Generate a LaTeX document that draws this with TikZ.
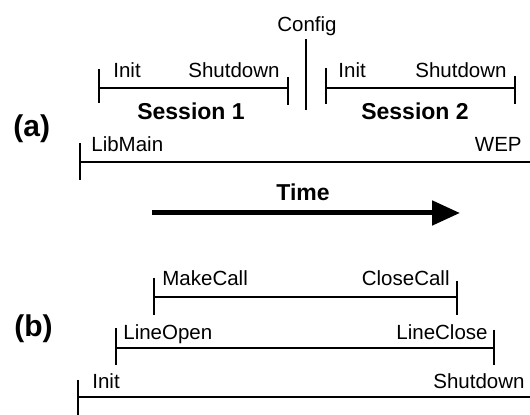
\documentclass[tikz,border=0pt]{standalone}
\usepackage{fontspec}
\setmainfont{Liberation Sans}
\usetikzlibrary{arrows.meta}
\tikzset{
	bar/.style={line width=1pt},
	lbl/.style={font=\fontsize{10.25}{12}\selectfont, inner sep=0pt},
	title/.style={font=\bfseries\fontsize{11.5}{14}\selectfont, inner sep=0pt, anchor=base},
	part/.style={font=\bfseries\fontsize{15}{18}\selectfont, inner sep=0pt, anchor=base west}
}

\begin{document}
\begin{tikzpicture}[x=0.5pt, y=-0.5pt]
		%%%%% START %%%%%
		\useasboundingbox (0, 0) rectangle (530, 415);
		
		%% (a) sessions inside the library lifetime
		\node[part] (pa) at (13, 137) {(a)};
		
		\node[lbl, anchor=base] (cfg) at (307, 32) {Config};
		\coordinate (cfgtop) at (306, 39);
		\coordinate (cfgbot) at (306, 110);
		\draw[bar] (cfgtop) -- (cfgbot);
		
		\coordinate (s1a) at (99, 88);
		\coordinate (s1b) at (288, 88);
		\draw[bar] (99, 69) -- (99, 103);
		\draw[bar] (288, 77) -- (288, 105);
		\draw[bar] (s1a) -- (s1b);
		\node[lbl, anchor=base west] (init1) at (113, 78) {Init};
		\node[lbl, anchor=base east] (shut1) at (280, 78) {Shutdown};
		\node[title] (sess1) at (191, 120) {Session 1};
		
		\coordinate (s2a) at (326, 88);
		\coordinate (s2b) at (515, 88);
		\draw[bar] (326, 68) -- (326, 104);
		\draw[bar] (515, 76) -- (515, 104);
		\draw[bar] (s2a) -- (s2b);
		\node[lbl, anchor=base west] (init2) at (338, 78) {Init};
		\node[lbl, anchor=base east] (shut2) at (507, 78) {Shutdown};
		\node[title] (sess2) at (415, 120) {Session 2};
		
		\coordinate (liba) at (80, 162);
		\coordinate (libb) at (530, 162);
		\draw[bar] (80, 143) -- (80, 180);
		\draw[bar] (liba) -- (libb);
		\node[lbl, anchor=base west] (libmain) at (91, 152) {LibMain};
		\node[lbl, anchor=base east] (wep) at (522, 152) {WEP};
		
		\node[title] (time) at (303, 201) {Time};
		\coordinate (ta) at (152, 213);
		\coordinate (tb) at (460, 213);
		\draw[line width=2.5pt, -{Triangle[length=14pt, width=12pt]}] (ta) -- (tb);
		
		%% (b) calls inside a line inside the service
		\node[part] (pb) at (14, 337) {(b)};
		
		\coordinate (mca) at (154, 297);
		\coordinate (mcb) at (457, 297);
		\draw[bar] (154, 278) -- (154, 315);
		\draw[bar] (457, 281) -- (457, 315);
		\draw[bar] (mca) -- (mcb);
		\node[lbl, anchor=base west] (make) at (162, 286) {MakeCall};
		\node[lbl, anchor=base east] (close) at (450, 286) {CloseCall};
		
		\coordinate (loa) at (116, 348);
		\coordinate (lob) at (494, 348);
		\draw[bar] (116, 328) -- (116, 365);
		\draw[bar] (494, 330) -- (494, 365);
		\draw[bar] (loa) -- (lob);
		\node[lbl, anchor=base west] (lopen) at (123, 340) {LineOpen};
		\node[lbl, anchor=base east] (lclose) at (488, 340) {LineClose};
		
		\coordinate (ina) at (78, 397);
		\coordinate (inb) at (530, 397);
		\draw[bar] (78, 380) -- (78, 415);
		\draw[bar] (ina) -- (inb);
		\node[lbl, anchor=base west] (init3) at (92, 389) {Init};
		\node[lbl, anchor=base east] (shut3) at (525, 389) {Shutdown};
		
		%%%%% END %%%%%
	\end{tikzpicture}
\end{document}
